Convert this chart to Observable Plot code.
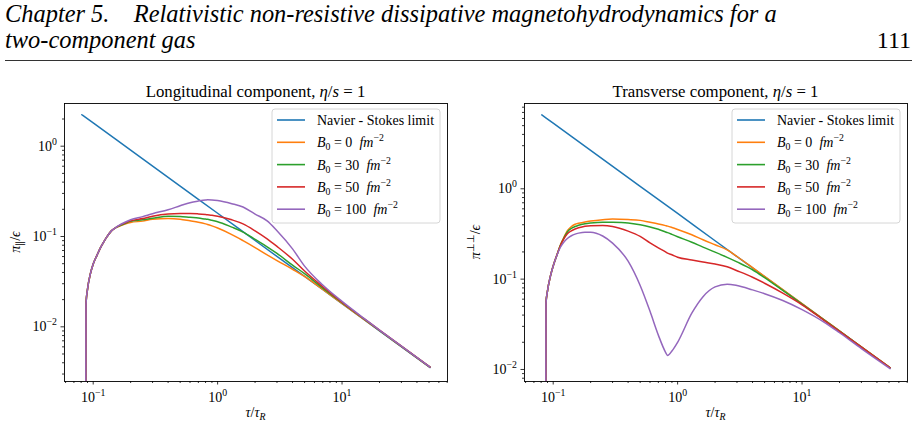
<!DOCTYPE html>
<html>
<head>
<meta charset="utf-8">
<script src="https://cdn.jsdelivr.net/npm/d3@7"></script>
<script src="https://cdn.jsdelivr.net/npm/@observablehq/plot@0.6"></script>
<style>
  body { margin: 0; background: #fff; font-family: "Liberation Serif", serif; }
  #page { position: relative; width: 920px; height: 430px; overflow: hidden; background: #fff; }
  #header { position: absolute; left: 0; top: 0; font-family: "Liberation Serif", serif; }
  #left { position: absolute; left: 0; top: 65px; }
  #right { position: absolute; left: 460px; top: 65px; }
</style>
</head>
<body>
<div id="page">
  <svg id="header" width="920" height="65"></svg>
  <div id="left"></div>
  <div id="right"></div>
</div>
<script>
// ---- running head of the page ----
const headLine1 = "Chapter 5.\u2003Relativistic non-resistive dissipative magnetohydrodynamics for a";
const headLine2 = "two-component gas";
const pageNumber = "111";

// ---- Navier-Stokes limit (straight line in log-log) ----
const tauNS = [0.081, 0.1, 0.2, 0.5, 1, 2, 5, 10, 20, 51];
const nsLong = [2.23, 1.81, 0.903, 0.361, 0.181, 0.0903, 0.0361, 0.0181, 0.00903, 0.00354];
const nsTrans = [6.58, 5.33, 2.66, 1.066, 0.533, 0.266, 0.1066, 0.0533, 0.0266, 0.01045];

// ---- time grid of the MHD solutions, tau / tau_R ----
const tau = [0.087, 0.0875, 0.09, 0.095, 0.1, 0.107, 0.114, 0.122, 0.13, 0.14, 0.15, 0.16, 0.18, 0.2,
             0.25, 0.3, 0.4, 0.5, 0.6, 0.7, 0.8, 0.83, 0.9, 1, 1.3, 1.6, 2, 2.5, 3, 4, 5, 7, 10, 15, 20, 30, 51];

// longitudinal component pi_par / eps, one list per field strength
const longB0   = [1e-4, 0.0179, 0.026, 0.0388, 0.0497, 0.0615, 0.0745, 0.088, 0.101, 0.1155, 0.124, 0.129, 0.137, 0.143,
                  0.148, 0.155, 0.158, 0.155, 0.149, 0.144, 0.138, 0.136, 0.131, 0.124, 0.105, 0.090, 0.0755, 0.0627, 0.0542,
                  0.0434, 0.0362, 0.0259, 0.0182, 0.0121, 0.0091, 0.00607, 0.00357];
const longB30  = [1e-4, 0.0179, 0.026, 0.0388, 0.0497, 0.0615, 0.0745, 0.088, 0.101, 0.1155, 0.124, 0.130, 0.139, 0.147,
                  0.153, 0.159, 0.168, 0.167, 0.163, 0.160, 0.156, 0.155, 0.151, 0.146, 0.127, 0.112, 0.093, 0.077, 0.065,
                  0.0482, 0.0388, 0.0268, 0.0185, 0.0122, 0.0091, 0.00607, 0.00357];
const longB50  = [1e-4, 0.0179, 0.026, 0.0388, 0.0497, 0.0615, 0.0745, 0.088, 0.101, 0.1155, 0.124, 0.131, 0.141, 0.149,
                  0.158, 0.168, 0.178, 0.180, 0.180, 0.178, 0.175, 0.174, 0.172, 0.168, 0.153, 0.138, 0.1155, 0.094, 0.0776,
                  0.056, 0.0415, 0.0278, 0.0187, 0.0123, 0.0092, 0.0061, 0.00358];
const longB100 = [1e-4, 0.0179, 0.026, 0.0388, 0.0497, 0.0615, 0.0745, 0.088, 0.101, 0.1155, 0.124, 0.132, 0.144, 0.153,
                  0.166, 0.179, 0.198, 0.219, 0.237, 0.247, 0.254, 0.255, 0.254, 0.250, 0.231, 0.212, 0.177, 0.149, 0.116,
                  0.073, 0.047, 0.029, 0.0191, 0.0124, 0.0092, 0.0061, 0.00358];

// transverse component pi_perp / eps
const transB0   = [1e-4, 0.054, 0.074, 0.108, 0.140, 0.184, 0.236, 0.290, 0.345, 0.382, 0.405, 0.415, 0.430, 0.440,
                   0.455, 0.463, 0.457, 0.447, 0.426, 0.408, 0.391, 0.386, 0.373, 0.355, 0.310, 0.273, 0.240, 0.211, 0.178,
                   0.134, 0.107, 0.0765, 0.0535, 0.0357, 0.0267, 0.0178, 0.01045];
const transB30  = [1e-4, 0.054, 0.074, 0.108, 0.140, 0.184, 0.235, 0.286, 0.333, 0.364, 0.382, 0.395, 0.410, 0.418,
                   0.427, 0.426, 0.419, 0.400, 0.378, 0.356, 0.333, 0.327, 0.313, 0.295, 0.256, 0.226, 0.199, 0.174, 0.155,
                   0.127, 0.104, 0.075, 0.0530, 0.0355, 0.0266, 0.0177, 0.01045];
const transB50  = [1e-4, 0.054, 0.074, 0.108, 0.140, 0.184, 0.233, 0.280, 0.318, 0.343, 0.359, 0.370, 0.385, 0.391,
                   0.393, 0.383, 0.340, 0.297, 0.252, 0.222, 0.200, 0.194, 0.186, 0.175, 0.163, 0.155, 0.147, 0.137, 0.124,
                   0.105, 0.090, 0.070, 0.052, 0.0350, 0.0264, 0.0177, 0.01045];
const transB100 = [1e-4, 0.054, 0.074, 0.108, 0.140, 0.183, 0.224, 0.258, 0.282, 0.302, 0.315, 0.323, 0.331, 0.331,
                   0.300, 0.250, 0.158, 0.085, 0.044, 0.024, 0.0155, 0.0143, 0.0160, 0.020, 0.042, 0.064, 0.082, 0.088, 0.085,
                   0.076, 0.069, 0.058, 0.046, 0.0335, 0.0255, 0.0170, 0.0102];

// ---- series, legend and axes ----
const fieldValues = ["0", "30", "50", "100"];          // B0 in fm^-2
const nsLabel = "Navier - Stokes limit";
const seriesKeys = ["ns", "B0", "B30", "B50", "B100"];
const seriesColors = ["#1f77b4", "#ff7f0e", "#2ca02c", "#d62728", "#9467bd"];
const xDomain = [0.0588, 70.4];
const yDomainLong = [0.00248, 2.97];
const yDomainTrans = [0.00736, 8.79];
const xMajorTicks = [0.1, 1, 10];
const yMajorTicks = [0.01, 0.1, 1];

const FS = 14;            // tick / legend font size
const W = 460, H = 365;
const M = {left: 64, right: 13, top: 38, bottom: 49};

function minorTicks([lo, hi]) {
  const out = [];
  for (let e = -4; e <= 3; e++)
    for (let k = 2; k <= 9; k++) {
      const v = k * Math.pow(10, e);
      if (v >= lo && v <= hi) out.push(v);
    }
  return out;
}
const powerLabel = v => "10^" + String(Math.round(Math.log10(v))).replace("-", "\u2212");

function panel(el, opts) {
  const rows = [];
  tauNS.forEach((t, i) => rows.push({t, v: opts.ns[i], key: "ns"}));
  opts.curves.forEach((vals, k) =>
    tau.forEach((t, i) => rows.push({t, v: vals[i], key: seriesKeys[k + 1]})));

  const svgNode = Plot.plot({
    width: W, height: H,
    marginLeft: M.left, marginRight: M.right, marginTop: M.top, marginBottom: M.bottom,
    style: {fontFamily: "'Liberation Serif', serif", fontSize: FS + "px", color: "black", background: "white", overflow: "visible"},
    x: {type: "log", domain: xDomain},
    y: {type: "log", domain: opts.yDomain},
    color: {domain: seriesKeys, range: seriesColors},
    marks: [
      Plot.line(rows, {x: "t", y: "v", z: "key", stroke: "key", strokeWidth: 1.5, curve: "monotone-x", clip: true}),
      Plot.axisX(minorTicks(xDomain), {tickSize: 2, tickFormat: () => "", label: null, strokeWidth: 0.8}),
      Plot.axisX(xMajorTicks, {tickSize: 3.5, tickPadding: 7, tickFormat: powerLabel, label: null, strokeWidth: 0.8, fontSize: FS}),
      Plot.axisY(minorTicks(opts.yDomain), {tickSize: 2, tickFormat: () => "", label: null, strokeWidth: 0.8}),
      Plot.axisY(yMajorTicks, {tickSize: 3.5, tickPadding: 4, tickFormat: powerLabel, label: null, strokeWidth: 0.8, fontSize: FS}),
      Plot.frame({stroke: "black", strokeWidth: 0.9})
    ]
  });

  const svg = d3.select(svgNode);
  // power-of-ten tick labels with a raised exponent
  svg.selectAll("text").each(function () {
    const m = /^10\^(.+)$/.exec(this.textContent);
    if (!m) return;
    const t = d3.select(this);
    t.text(null);
    t.append("tspan").text("10");
    t.append("tspan").attr("dy", -6).attr("font-size", FS * 0.7).text(m[1]);
  });

  const fx0 = M.left, fx1 = W - M.right, fy0 = M.top, fy1 = H - M.bottom;
  const cx = (fx0 + fx1) / 2;

  // title
  const ttl = svg.append("text").attr("x", cx).attr("y", fy0 - 6).attr("text-anchor", "middle")
    .attr("font-size", 16.8).attr("fill", "black");
  ttl.append("tspan").text(opts.title + ", ");
  ttl.append("tspan").attr("font-style", "italic").text("\u03b7");
  ttl.append("tspan").text("/");
  ttl.append("tspan").attr("font-style", "italic").text("s");
  ttl.append("tspan").text(" = 1");

  // x label  tau / tau_R
  const xl = svg.append("text").attr("x", cx).attr("y", fy1 + 36).attr("text-anchor", "middle")
    .attr("font-size", FS).attr("fill", "black");
  xl.append("tspan").attr("font-style", "italic").text("\u03c4");
  xl.append("tspan").text("/");
  xl.append("tspan").attr("font-style", "italic").text("\u03c4");
  xl.append("tspan").attr("font-style", "italic").attr("font-size", FS * 0.7).attr("dy", 3).text("R");

  // y label
  const yl = svg.append("text").attr("transform", `translate(${fx0 - 44},${(fy0 + fy1) / 2}) rotate(-90)`)
    .attr("text-anchor", "middle").attr("font-size", FS).attr("fill", "black");
  yl.append("tspan").attr("font-style", "italic").text("\u03c0");
  yl.append("tspan").attr("font-size", FS * 0.7).attr("dy", opts.yMarkDy).text(opts.yMark);
  yl.append("tspan").attr("dy", -opts.yMarkDy).text("/");
  yl.append("tspan").attr("font-style", "italic").text("\u03f5");

  // legend
  const lw = 168, lh = 114, rowH = 22.3;
  const lg = svg.append("g").attr("transform", `translate(${fx1 - 7 - lw},${fy0 + 6})`);
  lg.append("rect").attr("width", lw).attr("height", lh).attr("rx", 3)
    .attr("fill", "white").attr("fill-opacity", 0.8).attr("stroke", "#d6d6d6").attr("stroke-width", 1);
  seriesKeys.forEach((key, i) => {
    const y = 11 + i * rowH;
    lg.append("line").attr("x1", 5).attr("x2", 33).attr("y1", y).attr("y2", y)
      .attr("stroke", seriesColors[i]).attr("stroke-width", 1.6);
    const t = lg.append("text").attr("x", 45).attr("y", y + 5).attr("text-anchor", "start")
      .attr("font-size", FS).attr("fill", "black");
    if (i === 0) { t.text(nsLabel); return; }
    t.append("tspan").attr("font-style", "italic").text("B");
    t.append("tspan").attr("font-size", FS * 0.7).attr("dy", 3).text("0");
    t.append("tspan").attr("dy", -3).text(" = " + fieldValues[i - 1] + "\u2002");
    t.append("tspan").attr("font-style", "italic").text("fm");
    t.append("tspan").attr("font-size", FS * 0.7).attr("dy", -6).text("\u22122");
  });

  document.getElementById(el).appendChild(svgNode);
}

panel("left", {
  title: "Longitudinal component",
  ns: nsLong, curves: [longB0, longB30, longB50, longB100],
  yDomain: yDomainLong, yMark: "\u2225", yMarkDy: 3
});
panel("right", {
  title: "Transverse component",
  ns: nsTrans, curves: [transB0, transB30, transB50, transB100],
  yDomain: yDomainTrans, yMark: "\u22a5\u22a5", yMarkDy: -6
});

// running head: both lines share one horizontal scale, set by the first line
const hd = d3.select("#header");
function headText(str) {
  const g = hd.append("g");
  const t = g.append("text").attr("x", 0).attr("y", 0)
    .attr("font-family", "'Liberation Serif', serif").attr("font-size", 25.5)
    .attr("font-style", "italic").attr("fill", "black").text(str);
  return {g, t};
}
const h1 = headText(headLine1), h2 = headText(headLine2);
const sx = 772 / h1.t.node().getComputedTextLength();
h1.g.attr("transform", `translate(5,22) scale(${sx},1)`);
h2.g.attr("transform", `translate(5,48) scale(${sx},1)`);
hd.append("text").attr("x", 911).attr("y", 48).attr("font-size", 24).attr("text-anchor", "end")
  .attr("font-family", "'Liberation Serif', serif").attr("fill", "black").text(pageNumber);
hd.append("line").attr("x1", 5).attr("x2", 912).attr("y1", 60.5).attr("y2", 60.5)
  .attr("stroke", "#333").attr("stroke-width", 1.2);
</script>
</body>
</html>
